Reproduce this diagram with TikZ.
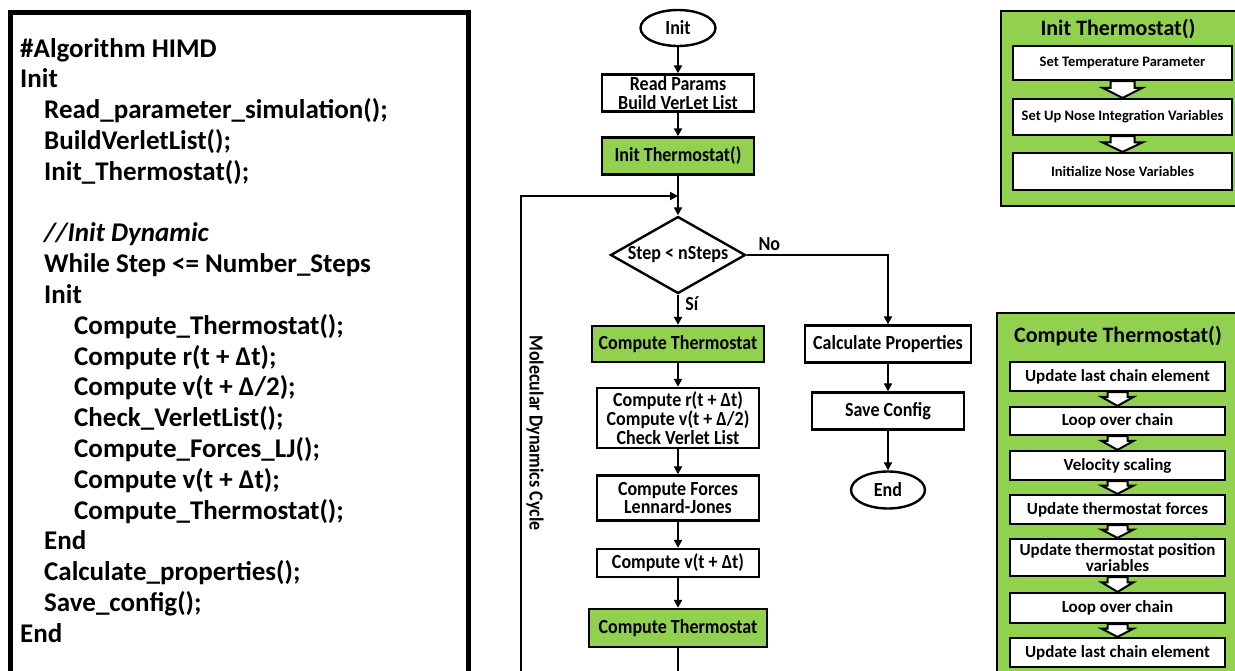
\documentclass[tikz,border=0pt]{standalone}
\usepackage{fontspec}
\setmainfont{Carlito}
\newfontfamily\flowfont{Carlito}[FakeStretch=0.9]
\usetikzlibrary{calc,shapes.geometric,arrows.meta}
\definecolor{thermo}{RGB}{146,208,80}
\tikzset{
  code/.style={anchor=base west, inner sep=0pt, font=\bfseries\fontsize{27}{30}\selectfont},
  box/.style={draw, line width=2.4pt, align=center, inner sep=0pt, font=\flowfont\bfseries\fontsize{20}{18.7}\selectfont},
  greenbox/.style={box, fill=thermo},
  term/.style={box, ellipse},
  lbl/.style={font=\flowfont\bfseries\fontsize{20}{20}\selectfont},
  flow/.style={line width=2pt, -{Triangle[length=8pt,width=8pt]}},
  panel/.style={draw, line width=2.4pt, fill=thermo},
  title/.style={anchor=base, font=\bfseries\fontsize{22}{24}\selectfont},
  subbox/.style={draw, fill=white, line width=2.2pt, align=center, inner sep=0pt},
  hollow/.style={draw, fill=white, line width=2pt, line join=miter}
}
\begin{document}
\begin{tikzpicture}[x=1pt, y=-1pt]
      \useasboundingbox (0,0) rectangle (1235,670);
      \clip (0,0) rectangle (1235,670);

      \draw [line width=5pt] (10,12) rectangle (468,720);
      \foreach \ind/\txt [count=\i] in {
          20/{\#Algorithm HIMD},
          20/Init,
          44/{Read\_parameter\_simulation();},
          44/{BuildVerletList();},
          44/{Init\_Thermostat();},
          44/{},
          44/{\itshape //Init Dynamic},
          44/{While Step <= Number\_Steps},
          44/Init,
          74/{Compute\_Thermostat();},
          74/{Compute r(t + Δt);},
          74/{Compute v(t + Δ/2);},
          74/{Check\_VerletList();},
          74/{Compute\_Forces\_LJ();},
          74/{Compute v(t + Δt);},
          74/{Compute\_Thermostat();},
          44/End,
          44/{Calculate\_properties();},
          44/{Save\_config();},
          20/End}
               {
                 \node [code] (line\i) at (\ind, {57+30.8*(\i-1)}) {\txt};
               }

      \node [term, minimum width=75pt, minimum height=36pt] (init) at (678,28) {Init};
      \node [box, minimum width=152pt, minimum height=37pt] (readp) at (678,93) {Read Params\\Build VerLet List};
      \node [greenbox, minimum width=152pt, minimum height=37pt] (initt) at (678,156) {Init Thermostat()};
      \node [box, diamond, aspect=1.75, minimum width=135pt, minimum height=77pt] (step) at (678,255) {Step < nSteps};
      \node [greenbox, minimum width=172pt, minimum height=36pt] (ctA) at (678,344) {Compute Thermostat};
      \node [box, minimum width=162pt, minimum height=60pt] (upd) at (678,418) {Compute r(t + Δt)\\Compute v(t + Δ/2)\\Check Verlet List};
      \node [box, minimum width=162pt, minimum height=45pt] (lj) at (678,498) {Compute Forces\\Lennard-Jones};
      \node [box, minimum width=162pt, minimum height=28pt] (vel) at (678,563) {Compute v(t + Δt)};
      \node [greenbox, minimum width=178pt, minimum height=38pt] (ctB) at (678,628) {Compute Thermostat};
      \node [box, minimum width=166pt, minimum height=37pt] (props) at (888,344) {Calculate Properties};
      \node [box, minimum width=152pt, minimum height=37pt] (save) at (888,411) {Save Config};
      \node [term, minimum width=74pt, minimum height=37pt] (fin) at (888,490) {End};
      \node [lbl, rotate=-90] (mdc) at (535,433) {Molecular Dynamics Cycle};

      \draw [flow] (init) -- (readp);
      \draw [flow] (readp) -- (initt);
      \draw [flow] (initt) -- (step);
      \draw [flow] (step) -- node[lbl, right, pos=0.3, xshift=3pt] {Sí} (ctA);
      \draw [flow] (step.east) -| node[lbl, above, pos=0.08] {No} (props.north);
      \draw [flow] (ctA) -- (upd);
      \draw [flow] (upd) -- (lj);
      \draw [flow] (lj) -- (vel);
      \draw [flow] (vel) -- (ctB);
      \draw [flow] (props) -- (save);
      \draw [flow] (save) -- (fin);
      \coordinate (loopend) at (521,700);
      \coordinate (merge) at (678,196);
      \draw [flow] (ctB.south) |- (loopend) |- (merge);

      \draw [panel] (1001,11) rectangle (1250,206);
      \node [title] (itTitle) at (1118,35) {Init Thermostat()};
      \foreach \y/\h/\txt [count=\i] in {63/34/{Set Temperature Parameter}, 117/36/{Set Up Nose Integration Variables}, 171.5/37/{Initialize Nose Variables}}
               {
                 \node [subbox, minimum width=219pt, minimum height=\h pt, font=\bfseries\fontsize{14.5}{16}\selectfont] (it\i) at (1122.5,\y) {\txt};
               }
      \foreach \a/\b in {it1/it2, it2/it3}
               {
                 \draw [hollow] ($(\a.south)+(-12,0)$) -- ($(\a.south)!0.4!(\b.north)+(-12,0)$) -- ($(\a.south)!0.4!(\b.north)+(-20,0)$)
                   -- (\b.north) -- ($(\a.south)!0.4!(\b.north)+(20,0)$) -- ($(\a.south)!0.4!(\b.north)+(12,0)$) -- ($(\a.south)+(12,0)$) -- cycle;
               }

      \draw [panel] (997,313) rectangle (1250,700);
      \node [title] (ctTitle) at (1118,342) {Compute Thermostat()};
      \foreach \y/\h/\txt [count=\i] in {376.5/29/{Update last chain element}, 421/28/{Loop over chain}, 465.5/29/{Velocity scaling},
          509.5/29/{Update thermostat forces}, 557.5/37/{Update thermostat position\\variables}, 608/30/{Loop over chain}, 652.5/29/{Update last chain element}}
               {
                 \node [subbox, minimum width=215pt, minimum height=\h pt, font=\bfseries\fontsize{17}{16.7}\selectfont] (ct\i) at (1117.5,\y) {\txt};
               }
      \foreach \a/\b in {ct1/ct2, ct2/ct3, ct3/ct4, ct4/ct5, ct5/ct6, ct6/ct7}
               {
                 \draw [hollow] ($(\a.south)+(-10,0)$) -- ($(\a.south)!0.35!(\b.north)+(-10,0)$) -- ($(\a.south)!0.35!(\b.north)+(-16,0)$)
                   -- (\b.north) -- ($(\a.south)!0.35!(\b.north)+(16,0)$) -- ($(\a.south)!0.35!(\b.north)+(10,0)$) -- ($(\a.south)+(10,0)$) -- cycle;
               }
    \end{tikzpicture}
\end{document}
